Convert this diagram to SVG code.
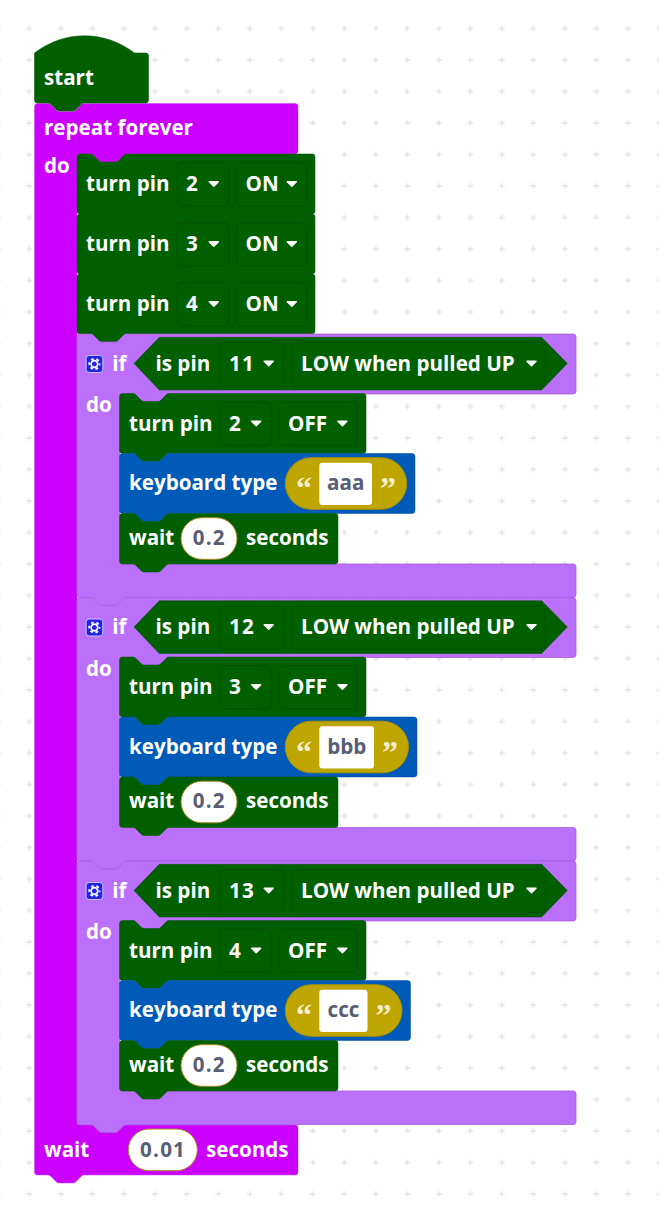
<svg xmlns="http://www.w3.org/2000/svg" xmlns:xlink="http://www.w3.org/1999/xlink" width="659" height="1220" viewBox="0 0 659 1220">
<style>
text{font-family:"Open Sans","Noto Sans","Liberation Sans",sans-serif;font-weight:700;font-size:20.6px;fill:#fff;transform:translateY(.6px)}
.g{fill:#006000;stroke:#005500;stroke-width:.5}
.b{fill:#005ab8;stroke:#004fa3;stroke-width:.5}
.m{fill:#cc00ff;stroke:#c040f0;stroke-width:.5}
.p{fill:#ba70fa;stroke:#a45fd8;stroke-width:.8}
.f{fill:#006000;stroke:#005000;stroke-width:1}
.h{fill:#006000;stroke:#005000;stroke-width:.5}
.o{fill:#bfa500;stroke:#a89000;stroke-width:1}
.w{fill:#fff;stroke:#a88a20;stroke-width:1}
text.v{fill:#575e75;text-anchor:middle}
text.n{letter-spacing:1.200px}
text.d{letter-spacing:1.200px}
text.q{font-family:"Liberation Serif",serif;font-weight:700;font-size:32px;fill:#f4eecb;text-anchor:middle}
.c{fill:#fff;stroke:#fff;stroke-width:1.5;stroke-linejoin:round}
.k{stroke:#dcdcdc;stroke-width:1;fill:none}
</style>
<defs>
<pattern id="grid" x="-2.2" y="-3" width="31.5" height="31.5" patternUnits="userSpaceOnUse">
<path class="k" d="M-3 0H3M0 -3V3M28.5 0H34.5M31.5 -3V3M-3 31.5H3M0 28.5V34.5M28.5 31.5H34.5M31.5 28.5V34.5"/>
</pattern>
<path id="caret" class="c" d="M-4.5 -2.25h9l-4.5 4.5z"/>
<path id="tp" class="g" d="M0 3a3 3 0 0 1 3-3h10.5q1.5 0 2.5 1l6 6q1 1 2.500 1h14q1.500 0 2.500-1l6-6q1-1 2.500-1H235a3 3 0 0 1 3 3V57a3 3 0 0 1-3 3H49.500q-1.500 0-2.500 1l-6 6q-1 1-2.500 1h-14q-1.500 0-2.500-1l-6-6q-1-1-2.500-1H3a3 3 0 0 1-3-3z"/>
<path id="tpi" class="g" d="M0 3a3 3 0 0 1 3-3h10.5q1.500 0 2.500 1l6 6q1 1 2.500 1h14q1.500 0 2.500-1l6-6q1-1 2.500-1H243.500a3 3 0 0 1 3 3V57a3 3 0 0 1-3 3H49.500q-1.500 0-2.500 1l-6 6q-1 1-2.500 1h-14q-1.500 0-2.500-1l-6-6q-1-1-2.500-1H3a3 3 0 0 1-3-3z"/>
<path id="wt" class="g" d="M0 3a3 3 0 0 1 3-3h10.5q1.500 0 2.500 1l6 6q1 1 2.500 1h14q1.500 0 2.500-1l6-6q1-1 2.500-1H215.500a3 3 0 0 1 3 3V47.500a3 3 0 0 1-3 3H49.500q-1.500 0-2.500 1l-6 6q-1 1-2.500 1h-14q-1.500 0-2.500-1l-6-6q-1-1-2.500-1H3a3 3 0 0 1-3-3z"/>
<path id="ifb" class="p" d="M0 3a3 3 0 0 1 3-3h10.5q1.500 0 2.500 1l6 6q1 1 2.500 1h14q1.500 0 2.500-1l6-6q1-1 2.500-1H496a3 3 0 0 1 3 3V57a3 3 0 0 1-3 3H92q-1.500 0-2.500 1l-6 6q-1 1-2.500 1h-14q-1.500 0-2.500-1l-6-6q-1-1-2.500-1H45.500a3 3 0 0 0-3 3V227a3 3 0 0 0 3 3H496a3 3 0 0 1 3 3V260.500a3 3 0 0 1-3 3H49.500q-1.500 0-2.500 1l-6 6q-1 1-2.500 1h-14q-1.500 0-2.500-1l-6-6q-1-1-2.500-1H3a3 3 0 0 1-3-3z"/>
<path id="hex" class="h" d="M57 29.500L82.300 3.300H464.700L490.300 29.500L464.700 56H82.300z"/>
<g id="gear">
<rect x="-8.300" y="-8.500" width="16.700" height="17" rx="3" fill="#2222ee" stroke="#c9c4ff" stroke-width="1"/>
<circle r="5.200" fill="none" stroke="#fff" stroke-width="1.800" stroke-dasharray="2.700 2.745" stroke-dashoffset="1.350"/>
<circle r="3.300" fill="none" stroke="#fff" stroke-width="1.700"/>
</g>
</defs>
<rect width="659" height="1220" fill="#fff"/>
<rect id="grid-bg" width="659" height="1220" fill="url(#grid)"/>
<g id="connectors"/>

<g id="repeat-forever" transform="translate(34.500,103.500)">
<path class="m" d="M0 3a3 3 0 0 1 3-3h10.500q1.500 0 2.500 1l6 6q1 1 2.500 1h14q1.500 0 2.500-1l6-6q1-1 2.500-1H260.500a3 3 0 0 1 3 3V47.500a3 3 0 0 1-3 3H92q-1.500 0-2.500 1l-6 6q-1 1-2.500 1h-14q-1.500 0-2.500-1l-6-6q-1-1-2.500-1H45.500a3 3 0 0 0-3 3V1018.500a3 3 0 0 0 3 3H260.500a3 3 0 0 1 3 3V1068.500a3 3 0 0 1-3 3H49.500q-1.500 0-2.500 1l-6 6q-1 1-2.500 1h-14q-1.500 0-2.500-1l-6-6q-1-1-2.500-1H3a3 3 0 0 1-3-3z"/>
<text x="9.500" y="31">repeat forever</text>
<text x="9.500" y="69.300">do</text>
<text x="9.500" y="1052.500">wait</text>
<rect class="w" x="93.800" y="1025.500" width="69" height="41.700" rx="20.800"/>
<text class="v n" x="128.600" y="1052.500">0.01</text>
<text x="171.500" y="1052.500">seconds</text>
</g>

<g id="start" transform="translate(34.500,36)">
<path class="g" d="M0 17c30-23 70-23 100 0H111a3 3 0 0 1 3 3V64a3 3 0 0 1-3 3H49.500q-1.500 0-2.500 1l-6 6q-1 1-2.500 1h-14q-1.500 0-2.500-1l-6-6q-1-1-2.500-1H3a3 3 0 0 1-3-3z"/>
<text x="9.500" y="48.500">start</text>
</g>

<g id="turn-on-2" transform="translate(77,154)">
<use href="#tp"/><text x="9" y="36">turn pin</text>
<rect class="f" x="100.300" y="8.700" width="51.400" height="43.300" rx="4"/><text x="109" y="36">2</text><use href="#caret" x="136.800" y="30"/>
<rect class="f" x="159.300" y="8.700" width="70" height="43.300" rx="4"/><text x="168.500" y="36">ON</text><use href="#caret" x="214.800" y="30"/>
</g>
<g id="turn-on-3" transform="translate(77,214)">
<use href="#tp"/><text x="9" y="36">turn pin</text>
<rect class="f" x="100.300" y="8.700" width="51.400" height="43.300" rx="4"/><text x="109" y="36">3</text><use href="#caret" x="136.800" y="30"/>
<rect class="f" x="159.300" y="8.700" width="70" height="43.300" rx="4"/><text x="168.500" y="36">ON</text><use href="#caret" x="214.800" y="30"/>
</g>
<g id="turn-on-4" transform="translate(77,274)">
<use href="#tp"/><text x="9" y="36">turn pin</text>
<rect class="f" x="100.300" y="8.700" width="51.400" height="43.300" rx="4"/><text x="109" y="36">4</text><use href="#caret" x="136.800" y="30"/>
<rect class="f" x="159.300" y="8.700" width="70" height="43.300" rx="4"/><text x="168.500" y="36">ON</text><use href="#caret" x="214.800" y="30"/>
</g>

<g id="if-11" transform="translate(77,334)">
<use href="#ifb"/>
<use href="#gear" x="17.400" y="30"/>
<text x="35.300" y="36">if</text>
<text x="9" y="77.700">do</text>
<use href="#hex"/>
<text x="78.500" y="36">is pin</text>
<rect class="f" x="142.300" y="8.700" width="64" height="43" rx="4"/><text class="d" x="152" y="36">11</text><use href="#caret" x="191.700" y="29.500"/>
<rect class="f" x="214.700" y="8.700" width="253.600" height="43" rx="4"/><text x="224" y="36">LOW when pulled UP</text><use href="#caret" x="454.500" y="29.500"/>
<g id="turn-off-2" transform="translate(42.500,59.500)">
<use href="#tpi"/><text x="9.500" y="36.500">turn pin</text>
<rect class="f" x="100.500" y="8.800" width="51.300" height="43" rx="4"/><text x="109.500" y="36.500">2</text><use href="#caret" x="136.700" y="30"/>
<rect class="f" x="159.800" y="8.800" width="77.400" height="43" rx="4"/><text x="168.500" y="36.500">OFF</text><use href="#caret" x="222.900" y="30"/>
</g>
<g id="type-aaa" transform="translate(42.500,119.500)">
<path class="b" d="M0 3a3 3 0 0 1 3-3h10.500q1.500 0 2.500 1l6 6q1 1 2.500 1h14q1.500 0 2.500-1l6-6q1-1 2.500-1H292.500a3 3 0 0 1 3 3V57a3 3 0 0 1-3 3H49.500q-1.500 0-2.500 1l-6 6q-1 1-2.500 1h-14q-1.500 0-2.500-1l-6-6q-1-1-2.500-1H3a3 3 0 0 1-3-3z"/>
<text x="9.500" y="36">keyboard type</text>
<rect class="o" x="165.800" y="4.200" width="121.400" height="51.600" rx="25.800"/>
<rect x="199.800" y="9.200" width="52.700" height="42.300" rx="3" fill="#fff"/>
<text class="v" x="226.200" y="36">aaa</text>
<text class="q" x="184.500" y="45">“</text><text class="q" x="268.500" y="45">”</text>
</g>
<g id="wait-a" transform="translate(42.500,179.500)">
<use href="#wt"/><text x="9.500" y="30.800">wait</text>
<rect class="w" x="61.500" y="4.200" width="56" height="41.600" rx="20.800"/>
<text class="v n" x="89.800" y="30.800">0.2</text>
<text x="126.500" y="30.800">seconds</text>
</g>
</g>

<g id="if-12" transform="translate(77,597.500)">
<use href="#ifb"/>
<use href="#gear" x="17.400" y="30"/>
<text x="35.300" y="36">if</text>
<text x="9" y="77.700">do</text>
<use href="#hex"/>
<text x="78.500" y="36">is pin</text>
<rect class="f" x="142.300" y="8.700" width="64" height="43" rx="4"/><text class="d" x="152" y="36">12</text><use href="#caret" x="191.700" y="29.500"/>
<rect class="f" x="214.700" y="8.700" width="253.600" height="43" rx="4"/><text x="224" y="36">LOW when pulled UP</text><use href="#caret" x="454.500" y="29.500"/>
<g id="turn-off-3" transform="translate(42.500,59.500)">
<use href="#tpi"/><text x="9.500" y="36.500">turn pin</text>
<rect class="f" x="100.500" y="8.800" width="51.300" height="43" rx="4"/><text x="109.500" y="36.500">3</text><use href="#caret" x="136.700" y="30"/>
<rect class="f" x="159.800" y="8.800" width="77.400" height="43" rx="4"/><text x="168.500" y="36.500">OFF</text><use href="#caret" x="222.900" y="30"/>
</g>
<g id="type-bbb" transform="translate(42.500,119.500)">
<path class="b" d="M0 3a3 3 0 0 1 3-3h10.500q1.500 0 2.500 1l6 6q1 1 2.500 1h14q1.500 0 2.500-1l6-6q1-1 2.500-1H294.500a3 3 0 0 1 3 3V57a3 3 0 0 1-3 3H49.500q-1.500 0-2.500 1l-6 6q-1 1-2.500 1h-14q-1.500 0-2.500-1l-6-6q-1-1-2.500-1H3a3 3 0 0 1-3-3z"/>
<text x="9.500" y="36">keyboard type</text>
<rect class="o" x="165.800" y="4.200" width="123.200" height="51.600" rx="25.800"/>
<rect x="199.800" y="9.200" width="54.700" height="42.300" rx="3" fill="#fff"/>
<text class="v" x="227.200" y="36">bbb</text>
<text class="q" x="184.500" y="45">“</text><text class="q" x="270.500" y="45">”</text>
</g>
<g id="wait-b" transform="translate(42.500,179.500)">
<use href="#wt"/><text x="9.500" y="30.800">wait</text>
<rect class="w" x="61.500" y="4.200" width="56" height="41.600" rx="20.800"/>
<text class="v n" x="89.800" y="30.800">0.2</text>
<text x="126.500" y="30.800">seconds</text>
</g>
</g>

<g id="if-13" transform="translate(77,861)">
<use href="#ifb"/>
<use href="#gear" x="17.400" y="30"/>
<text x="35.300" y="36">if</text>
<text x="9" y="77.700">do</text>
<use href="#hex"/>
<text x="78.500" y="36">is pin</text>
<rect class="f" x="142.300" y="8.700" width="64" height="43" rx="4"/><text class="d" x="152" y="36">13</text><use href="#caret" x="191.700" y="29.500"/>
<rect class="f" x="214.700" y="8.700" width="253.600" height="43" rx="4"/><text x="224" y="36">LOW when pulled UP</text><use href="#caret" x="454.500" y="29.500"/>
<g id="turn-off-4" transform="translate(42.500,59.500)">
<use href="#tpi"/><text x="9.500" y="36.500">turn pin</text>
<rect class="f" x="100.500" y="8.800" width="51.300" height="43" rx="4"/><text x="109.500" y="36.500">4</text><use href="#caret" x="136.700" y="30"/>
<rect class="f" x="159.800" y="8.800" width="77.400" height="43" rx="4"/><text x="168.500" y="36.500">OFF</text><use href="#caret" x="222.900" y="30"/>
</g>
<g id="type-ccc" transform="translate(42.500,119.500)">
<path class="b" d="M0 3a3 3 0 0 1 3-3h10.500q1.500 0 2.500 1l6 6q1 1 2.500 1h14q1.500 0 2.500-1l6-6q1-1 2.500-1H288a3 3 0 0 1 3 3V57a3 3 0 0 1-3 3H49.500q-1.500 0-2.500 1l-6 6q-1 1-2.500 1h-14q-1.500 0-2.500-1l-6-6q-1-1-2.500-1H3a3 3 0 0 1-3-3z"/>
<text x="9.500" y="36">keyboard type</text>
<rect class="o" x="165.800" y="4.200" width="116.700" height="51.600" rx="25.800"/>
<rect x="199.800" y="9.200" width="48.200" height="42.300" rx="3" fill="#fff"/>
<text class="v" x="224" y="36">ccc</text>
<text class="q" x="184.500" y="45">“</text><text class="q" x="264" y="45">”</text>
</g>
<g id="wait-c" transform="translate(42.500,179.500)">
<use href="#wt"/><text x="9.500" y="30.800">wait</text>
<rect class="w" x="61.500" y="4.200" width="56" height="41.600" rx="20.800"/>
<text class="v n" x="89.800" y="30.800">0.2</text>
<text x="126.500" y="30.800">seconds</text>
</g>
</g>
</svg>
